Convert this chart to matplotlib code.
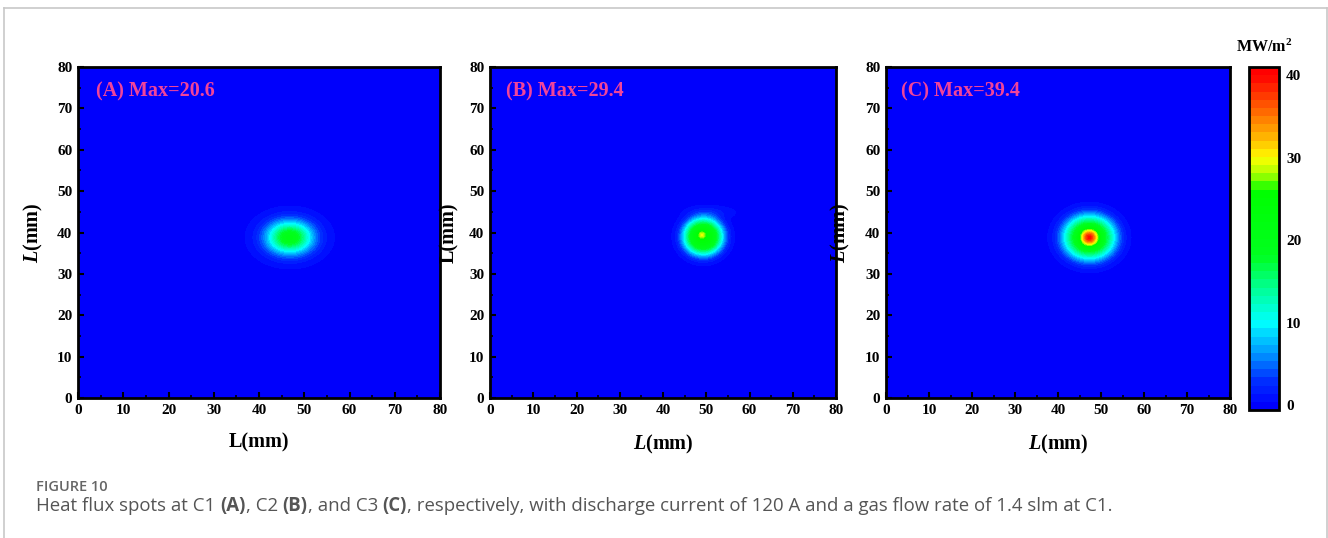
import numpy as np
import matplotlib
matplotlib.use('Agg')
import matplotlib.pyplot as plt
from matplotlib.colors import LinearSegmentedColormap
from matplotlib.lines import Line2D

plt.rcParams['font.family'] = 'Liberation Serif'
plt.rcParams['font.weight'] = 'bold'
plt.rcParams['mathtext.fontset'] = 'custom'
plt.rcParams['mathtext.rm'] = 'Liberation Serif:bold'
plt.rcParams['mathtext.it'] = 'Liberation Serif:italic:bold'
plt.rcParams['mathtext.bf'] = 'Liberation Serif:bold'

# panel labels / maxima
panel_tags = ['(A)', '(B)', '(C)']
panel_max = [20.6, 29.4, 39.4]
xlabels = ['L(mm)', '$L$(mm)', '$L$(mm)']
ylabels = ['$L$(mm)', 'L(mm)', '$L$(mm)']

# spot components: panel, centre, amplitude, widths, shape order
comp_panel = [0, 1, 1, 1, 2, 2]
comp_cx = [46.8, 49.3, 49.0, 51.0, 47.3, 47.3]
comp_cy = [38.8, 39.0, 39.4, 44.8, 38.8, 38.8]
comp_amp = [20.6, 24.0, 5.4, 1.5, 22.0, 17.4]
comp_sx = [3.5, 3.2, 0.6, 3.5, 4.3, 1.3]
comp_sy = [2.7, 3.1, 0.6, 1.0, 3.8, 1.3]
comp_ord = [1.0, 1.5, 1.0, 1.0, 1.5, 1.0]

# colour scale nodes (MW/m2)
cb_vals = [-0.6, 0, 3, 6, 10, 14, 18, 26, 28, 30, 33, 36, 40, 41]
cb_cols = ['#0000f0', '#0000ff', '#0030ff', '#0090ff', '#00ffff', '#00ff99', '#00ff20',
           '#00ff00', '#aaff00', '#ffff00', '#ffaa00', '#ff6000', '#ff0000', '#ff0000']
vmin, vmax = -0.6, 41.0
cmap = LinearSegmentedColormap.from_list(
    'flux', [((v - vmin) / (vmax - vmin), c) for v, c in zip(cb_vals, cb_cols)])
levels = np.linspace(vmin, vmax, 43)

W, H = 1328, 538
fig = plt.figure(figsize=(W / 100, H / 100), dpi=100)

x = np.linspace(0, 80, 401)
X, Y = np.meshgrid(x, x)

ax_px = [(78, 362), (490, 346), (886, 344)]
ylab_x = [-0.09, -0.09, -0.10]
tag_x = [4.0, 3.7, 3.5]
cs = None
for i in range(3):
    l, w = ax_px[i]
    ax = fig.add_axes([l / W, 1 - 398 / H, w / W, 331 / H])
    Z = np.zeros_like(X)
    for p, cx, cy, a, sx, sy, o in zip(comp_panel, comp_cx, comp_cy, comp_amp,
                                       comp_sx, comp_sy, comp_ord):
        if p == i:
            r2 = ((X - cx) / sx) ** 2 + ((Y - cy) / sy) ** 2
            Z += a * np.exp(-(r2 / 2) ** o)
    cs = ax.contourf(X, Y, Z, levels=levels, cmap=cmap, vmin=vmin, vmax=vmax)
    ax.set_xlim(0, 80)
    ax.set_ylim(0, 80)
    ax.set_xticks(np.arange(0, 81, 10))
    ax.set_yticks(np.arange(0, 81, 10))
    ax.set_xticks(np.arange(5, 80, 10), minor=True)
    ax.set_yticks(np.arange(5, 80, 10), minor=True)
    ax.tick_params(which='major', direction='in', length=4, width=1.5,
                   labelsize=11, pad=4)
    ax.tick_params(which='minor', direction='in', length=2.5, width=1.2)
    for s in ax.spines.values():
        s.set_linewidth(2)
    ax.set_xlabel(xlabels[i], fontsize=14.5, fontweight='bold')
    ax.set_ylabel(ylabels[i], fontsize=14.5, fontweight='bold')
    ax.xaxis.set_label_coords(0.5, -0.105)
    ax.yaxis.set_label_coords(ylab_x[i], 0.5)
    ax.text(tag_x[i], 74.2, f'{panel_tags[i]} Max={panel_max[i]}', color='#f0449a',
            fontsize=14.5, fontweight='bold', va='center', ha='left')

cax = fig.add_axes([1249 / W, 1 - 410 / H, 30 / W, 343 / H])
cb = fig.colorbar(cs, cax=cax, ticks=[0, 10, 20, 30, 40])
cb.outline.set_linewidth(2)
cax.tick_params(length=0, labelsize=11, pad=5)
fig.text(1264 / W, 1 - 47 / H, 'MW/m$^{2}$', ha='center', va='center', fontsize=11.5,
         fontweight='bold')

# page frame
fc = '#c8c8c8'
fig.add_artist(Line2D([4 / W, 1327 / W], [1 - 8 / H, 1 - 8 / H], color=fc, lw=1.2))
fig.add_artist(Line2D([4 / W, 4 / W], [0, 1 - 8 / H], color=fc, lw=1.2))
fig.add_artist(Line2D([1327 / W, 1327 / W], [0, 1 - 8 / H], color=fc, lw=1.2))

# caption
fig.text(36 / W, 1 - 487 / H, 'FIGURE 10', family='Open Sans', fontweight='semibold',
         fontsize=10.5, color='#666666', va='center')
parts = [('Heat flux spots at C1 ', 'normal'), ('(A)', 'bold'), (', C2 ', 'normal'),
         ('(B)', 'bold'), (', and C3 ', 'normal'), ('(C)', 'bold'),
         (', respectively, with discharge current of 120 A and a gas flow rate of 1.4 slm at C1.',
          'normal')]
renderer = fig.canvas.get_renderer()
xpos = 36 / W
for s, wt in parts:
    t = fig.text(xpos, 1 - 506 / H, s, family='Open Sans', fontweight=wt, fontsize=13.4,
                 color='#555555', va='center')
    bb = t.get_window_extent(renderer)
    xpos = bb.x1 / W

fig.savefig('out.png', dpi=100)
